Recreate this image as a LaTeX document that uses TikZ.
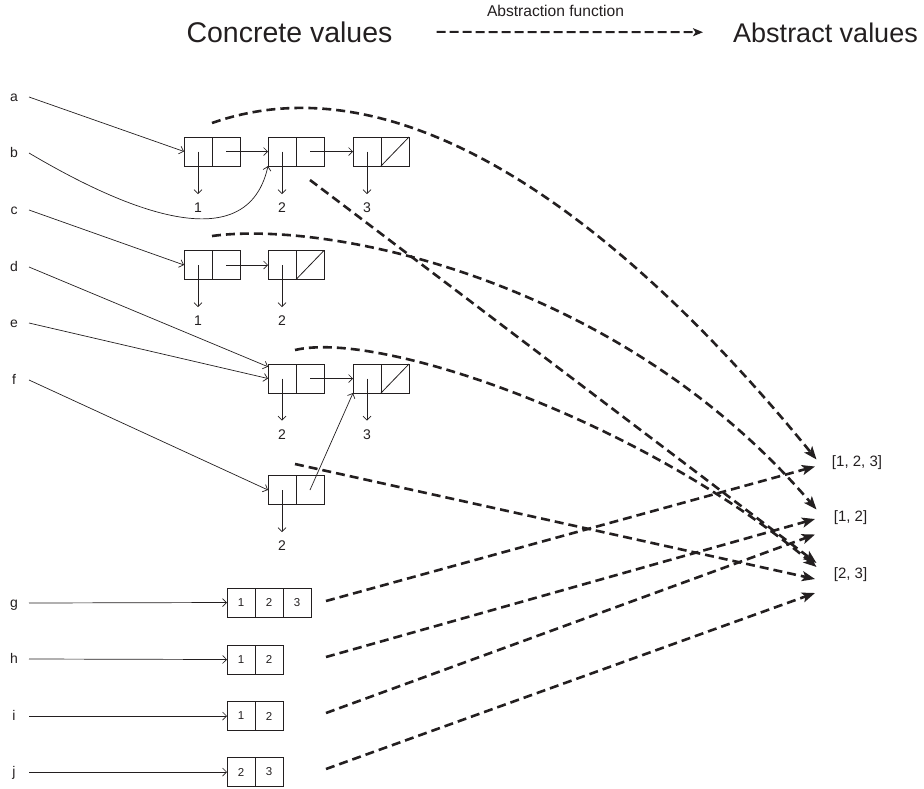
\documentclass[tikz,border=0pt]{standalone}
\usepackage{fontspec}
\setmainfont{Liberation Sans}
\usetikzlibrary{arrows.meta,calc}
\definecolor{ink}{HTML}{231F20}
\begin{document}
\begin{tikzpicture}[x=1pt,y=-1pt,
  every node/.style={text=ink},
  cell/.style={draw=ink,line width=0.8pt,minimum width=28pt,minimum height=29pt,inner sep=0pt,outer sep=0pt},
  acell/.style={cell,font=\fontsize{11.5}{12}\selectfont},
  num/.style={inner sep=0pt,outer sep=9pt,font=\fontsize{14}{16}\selectfont},
  var/.style={inner sep=0pt,anchor=base,font=\fontsize{14}{16}\selectfont},
  absval/.style={inner sep=0pt,font=\fontsize{15}{17}\selectfont},
  head/.style={inner sep=0pt,font=\fontsize{28.5}{30}\selectfont},
  ptr/.style={draw=ink,line width=0.7pt,-{Straight Barb[length=4pt,width=8pt]}},
  nullslash/.style={draw=ink,line width=0.8pt},
  absf/.style={draw=ink,line width=2.6pt,dash pattern=on 9pt off 5pt,
    -{Stealth[length=13pt,width=10pt,inset=3pt]}},
  headarrow/.style={draw=ink,line width=2pt,dash pattern=on 9pt off 4pt,
    -{Stealth[length=10pt,width=8pt,inset=2.5pt]}}]
\useasboundingbox (0,0) rectangle (924,788);

% ---------- heading ----------
\node[head,anchor=base] (cv) at (289.5,42) {Concrete values};
\node[head,anchor=base east,font=\fontsize{27}{30}\selectfont] (av) at (918,42) {Abstract values};
\node[inner sep=0pt,anchor=base,font=\fontsize{15.6}{17}\selectfont] (af) at (555.5,16.5) {Abstraction function};
\draw[headarrow,shorten <=44pt,shorten >=30pt] (cv) -- (av);

% ---------- variable names ----------
\foreach \v/\y in {a/97,b/153,c/210,d/267,e/323,f/380,g/603,h/659,i/716,j/772}{
  \node[var] (l\v) at (14,\y+4) {\v};
  \coordinate (p\v) at (29,\y);
}

% ---------- linked cells ----------
% list 1 -> 2 -> 3
\node[cell] (A1) at (198,151.5) {};  \node[cell] (A2) at (226,151.5) {};
\node[cell] (B1) at (282,151.5) {};  \node[cell] (B2) at (310,151.5) {};
\node[cell] (C1) at (367,151.5) {};  \node[cell] (C2) at (395,151.5) {};
\node[num] (nA) at (198,208) {1};
\node[num] (nB) at (282,208) {2};
\node[num] (nC) at (367,208) {3};
% list 1 -> 2
\node[cell] (E1) at (198,265) {};  \node[cell] (E2) at (226,265) {};
\node[cell] (F1) at (282,265) {};  \node[cell] (F2) at (310,265) {};
\node[num] (nE) at (198,321) {1};
\node[num] (nF) at (282,321) {2};
% list 2 -> 3
\node[cell] (D1) at (282,378.5) {};  \node[cell] (D2) at (310,378.5) {};
\node[cell] (G1) at (367,378.5) {};  \node[cell] (G2) at (395,378.5) {};
\node[num] (nD) at (282,434.5) {2};
\node[num] (nG) at (367,434.5) {3};
% list 2 -> (shared) 3
\node[cell] (H1) at (282,490) {};  \node[cell] (H2) at (310,490) {};
\node[num] (nH) at (282,546) {2};

% element pointers
\foreach \c/\n in {A1/nA,B1/nB,C1/nC,E1/nE,F1/nF,D1/nD,G1/nG,H1/nH}
  \draw[ptr] (\c.center) -- (\n.north);
% next pointers
\draw[ptr] (A2.center) -- (B1.west);
\draw[ptr] (B2.center) -- (C1.west);
\draw[ptr] (E2.center) -- (F1.west);
\draw[ptr] (D2.center) -- (G1.west);
\draw[ptr] (H2.center) -- (G1.south west);
% null ends
\draw[nullslash] (C2.south west) -- (C2.north east);
\draw[nullslash] (F2.south west) -- (F2.north east);
\draw[nullslash] (G2.south west) -- (G2.north east);

% variables into the lists
\draw[ptr] (pa) -- (A1.west);
\draw[ptr] (pb) .. controls (100,195) and (245,270) .. (B1.south west);
\draw[ptr] (pc) -- (E1.west);
\draw[ptr] (pd) -- (D1.140);
\draw[ptr] (pe) -- (D1.west);
\draw[ptr] (pf) -- (H1.west);

% ---------- arrays ----------
\node[acell] (g1) at (241,602.5) {1}; \node[acell] (g2) at (269,602.5) {2}; \node[acell] (g3) at (297,602.5) {3};
\node[acell] (h1) at (241,659.5) {1}; \node[acell] (h2) at (269,659.5) {2};
\node[acell] (i1) at (241,716) {1};   \node[acell] (i2) at (269,716) {2};
\node[acell] (j1) at (241,772) {2};   \node[acell] (j2) at (269,772) {3};
\draw[ptr] (pg) -- (g1.west);
\draw[ptr] (ph) -- (h1.west);
\draw[ptr] (pi) -- (i1.west);
\draw[ptr] (pj) -- (j1.west);

% ---------- abstract values ----------
\node[absval] (v123) at (857,463) {[1, 2, 3]};
\node[absval] (v12) at (850.5,518) {[1, 2]};
\node[absval] (v23) at (850.5,575) {[2, 3]};

% arrow ends beside the abstract values
\coordinate (t123a) at (816.5,459.5);
\coordinate (t123b) at (815,466.5);
\coordinate (t12a) at (816.5,509.5);
\coordinate (t12b) at (815,519);
\coordinate (t12c) at (815,534.5);
\coordinate (t23a) at (816.5,563);
\coordinate (t23b) at (816.5,567);
\coordinate (t23c) at (815,579);
\coordinate (t23d) at (815,593);

% arrow starts beside the concrete values
\coordinate (s1) at (212,123);
\coordinate (s2) at (310,180);
\coordinate (s3) at (212,236);
\coordinate (s4) at (295,350);
\coordinate (s5) at (295,464);
\coordinate (s6) at (326,601);
\coordinate (s7) at (326,657);
\coordinate (s8) at (326,713);
\coordinate (s9) at (326,769);

% ---------- abstraction function ----------
\draw[absf] (s1) .. controls (420,50) and (650,255) .. (t123a);
\draw[absf] (s2) -- (t23a);
\draw[absf] (s3) .. controls (330,220) and (620,280) .. (t12a);
\draw[absf] (s4) .. controls (380,330) and (640,420) .. (t23b);
\draw[absf] (s5) -- (t23c);
\draw[absf] (s6) -- (t123b);
\draw[absf] (s7) -- (t12b);
\draw[absf] (s8) -- (t12c);
\draw[absf] (s9) -- (t23d);
\end{tikzpicture}
\end{document}
